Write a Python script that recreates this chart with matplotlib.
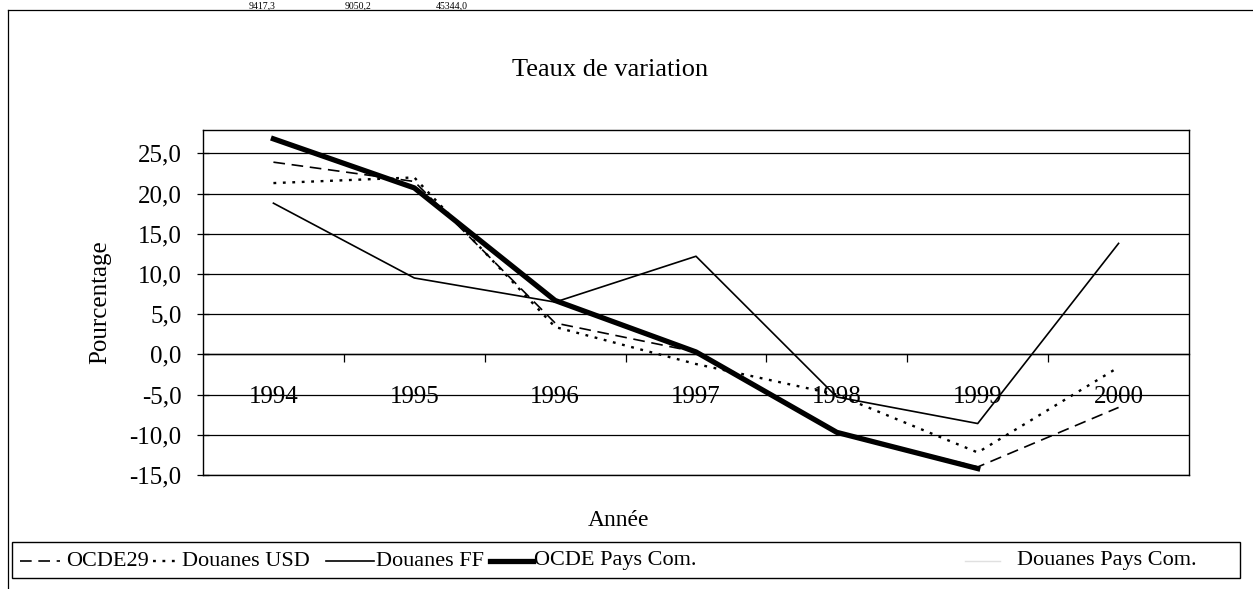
import numpy as np
import matplotlib
matplotlib.use("Agg")
import matplotlib.pyplot as plt
from matplotlib.lines import Line2D
from matplotlib.patches import Rectangle
from matplotlib.ticker import FuncFormatter, FixedLocator

# ---- data ----
years = ['1994', '1995', '1996', '1997', '1998', '1999', '2000']
ocde29 = [23.9, 21.5, 3.9, 0.3, -9.7, -14.0, -6.6]
douanes_usd = [21.3, 22.0, 3.4, -1.2, -5.0, -12.2, -1.6]
douanes_ff = [18.8, 9.5, 6.5, 12.2, -5.3, -8.6, 13.8]
ocde_pays_com = [26.8, 20.7, 6.7, 0.3, -9.7, -14.2, np.nan]
douanes_pays_com = [np.nan, np.nan, np.nan, np.nan, np.nan, np.nan, np.nan]
series_names = ['OCDE29', 'Douanes USD', 'Douanes FF', 'OCDE Pays Com.', 'Douanes Pays Com.']
y_ticks = [-15, -10, -5, 0, 5, 10, 15, 20, 25]
top_values = ['9417,3', '9050,2', '45344,0']

plt.rcParams['font.family'] = ['Liberation Serif', 'DejaVu Serif']
FS = 18
LFS = 16

W, H = 1253, 589
fig = plt.figure(figsize=(W / 100, H / 100), dpi=100)

def fx(px):
    return px / W

def fy(py):
    return 1 - py / H

# chart area frame (top and left lines)
fig.add_artist(Line2D([fx(8), fx(1253)], [fy(10), fy(10)], color='black', lw=0.9))
fig.add_artist(Line2D([fx(8), fx(8)], [fy(10), fy(589)], color='black', lw=0.9))

# values of the table row above the chart
for txt, xc in zip(top_values, [262, 358, 452]):
    fig.text(fx(xc), fy(1), txt, ha='center', va='top', fontsize=7)

ax = fig.add_axes([fx(203), fy(475), fx(1189) - fx(203), fy(130) - fy(475)])
x = np.arange(len(years))

styles = [
    dict(color='black', lw=1.2, linestyle=(0, (7, 4))),
    dict(color='black', lw=1.7, linestyle=(0, (1.2, 2.8))),
    dict(color='black', lw=1.2, linestyle='-'),
    dict(color='black', lw=3.8, linestyle='-'),
    dict(color='#e0e0e0', lw=1.0, linestyle='-'),
]
all_series = [ocde29, douanes_usd, douanes_ff, ocde_pays_com, douanes_pays_com]
for vals, st, name in zip(all_series, styles, series_names):
    ax.plot(x, vals, label=name, zorder=3, **st)

ax.set_xlim(-0.5, len(years) - 0.5)
ax.set_ylim(-15, 27.9)

# horizontal gridlines
ax.yaxis.set_major_locator(FixedLocator(y_ticks))
ax.grid(axis='y', color='black', lw=0.9)
ax.grid(axis='x', visible=False)
ax.yaxis.set_major_formatter(FuncFormatter(lambda v, p: f"{v:.1f}".replace('.', ',')))
ax.tick_params(axis='y', direction='inout', length=9, width=0.9, labelsize=FS, pad=11)

# category axis crossing at 0
ax.spines['bottom'].set_position(('data', 0))
for s in ax.spines.values():
    s.set_linewidth(1.0)
ax.add_line(Line2D([0, 1], [0, 0], transform=ax.transAxes, color='black', lw=1.0, clip_on=False))
ax.xaxis.set_major_locator(FixedLocator(x[:-1] + 0.5))
ax.xaxis.set_minor_locator(FixedLocator(x))
ax.xaxis.set_major_formatter(FuncFormatter(lambda v, p: ''))
ax.set_xticks(x, years, minor=True)
ax.tick_params(axis='x', which='major', direction='out', length=6, width=0.9)
ax.tick_params(axis='x', which='minor', length=0, labelsize=FS, pad=23)

# titles
fig.text(fx(610), fy(70), 'Teaux de variation', ha='center', va='center', fontsize=19)
fig.text(fx(100), fy(302), 'Pourcentage', ha='center', va='center', rotation=90, fontsize=FS)
fig.text(fx(619), fy(520), 'Année', ha='center', va='center', fontsize=17)

# manual legend
fig.add_artist(Rectangle((fx(12), fy(578)), fx(1240) - fx(12), fy(542) - fy(578),
                         fill=False, edgecolor='black', lw=1.0))
handle_x = [(20, 60), (153, 180), (326, 374), (490, 533), (965, 1000)]
text_x = [66, 182, 376, 534, 1017]
ly = 561
for (h0, h1), tx, st, name in zip(handle_x, text_x, styles, series_names):
    fig.add_artist(Line2D([fx(h0), fx(h1)], [fy(ly), fy(ly)], **st))
    fig.text(fx(tx), fy(ly), name, ha='left', va='center', fontsize=LFS)

fig.savefig('out.png', dpi=100)
